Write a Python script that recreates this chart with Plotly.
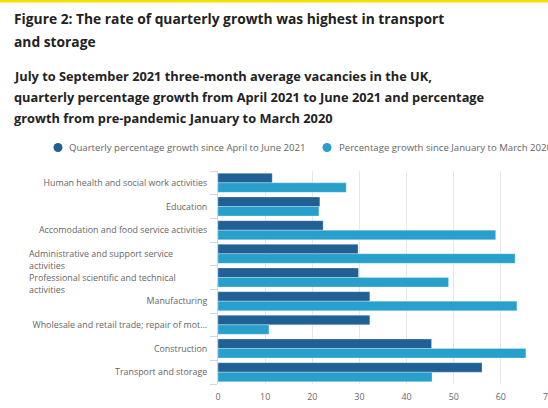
import plotly.graph_objects as go

categories = [
    "Human health and social work activities",
    "Education",
    "Accomodation and food service activities",
    "Administrative and support service activities",
    "Professional scientific and technical activities",
    "Manufacturing",
    "Wholesale and retail trade; repair of mot...",
    "Construction",
    "Transport and storage",
]
tick_labels = [
    "Human health and social work activities",
    "Education",
    "Accomodation and food service activities",
    "Administrative and support service<br>activities",
    "Professional scientific and technical<br>activities",
    "Manufacturing",
    "Wholesale and retail trade; repair of mot...",
    "Construction",
    "Transport and storage",
]
quarterly_growth = [11.5, 21.6, 22.3, 29.7, 29.8, 32.2, 32.2, 45.3, 56.0]
pre_pandemic_growth = [27.2, 21.4, 58.9, 63.0, 48.9, 63.4, 10.8, 65.3, 45.4]
series_names = [
    "Quarterly percentage growth since April to June 2021",
    "Percentage growth since January to March 2020",
]
x_ticks = [0, 10, 20, 30, 40, 50, 60, 70]

title_lines = ["Figure 2: The rate of quarterly growth was highest in transport", "and storage"]
subtitle_lines = [
    "July to September 2021 three-month average vacancies in the UK,",
    "quarterly percentage growth from April 2021 to June 2021 and percentage",
    "growth from pre-pandemic January to March 2020",
]

DARK = "#206095"
LIGHT = "#27a0cc"
FONT = "Open Sans"
LABEL_SIZE = 8.9

W, H = 548, 408
ML, MR, MT, MB = 218, 0, 171, 24
PW, PH = W - ML - MR, H - MT - MB


def px(x):
    return (x - ML) / PW


def py(y):
    return (H - MB - y) / PH


fig = go.Figure()
fig.add_trace(go.Bar(y=categories, x=quarterly_growth, orientation="h", name=series_names[0],
                     marker=dict(color=DARK, line=dict(color="rgba(255,255,255,0.5)", width=0.5))))
fig.add_trace(go.Bar(y=categories, x=pre_pandemic_growth, orientation="h", name=series_names[1],
                     marker=dict(color=LIGHT, line=dict(color="rgba(255,255,255,0.5)", width=0.5))))

single_ticktext = ["" if "<br>" in t else t for t in tick_labels]

annotations = []
# Wrapped, left-aligned category labels
for cat, lab in zip(categories, tick_labels):
    if "<br>" in lab:
        annotations.append(dict(x=px(27), xref="paper", y=cat, yref="y", xanchor="left", yanchor="middle",
                                yshift=-5.5, align="left", showarrow=False, text=lab,
                                font=dict(family=FONT, size=LABEL_SIZE, color="#666666")))

# Title lines
for i, t in enumerate(title_lines):
    annotations.append(dict(x=px(12), xref="paper", y=py(18 + 24 * i), yref="paper", xanchor="left",
                            yanchor="middle", showarrow=False, text="<b>%s</b>" % t,
                            font=dict(family=FONT, size=13.8, color="#222222")))
for i, t in enumerate(subtitle_lines):
    annotations.append(dict(x=px(12), xref="paper", y=py(76 + 21 * i), yref="paper", xanchor="left",
                            yanchor="middle", showarrow=False, text="<b>%s</b>" % t,
                            font=dict(family=FONT, size=12.8, color="#222222")))

# Legend (manual)
legend_pos = [(58, 67), (327, 337)]
shapes = []
for (cx, tx), name, col in zip(legend_pos, series_names, [DARK, LIGHT]):
    shapes.append(dict(type="circle", xref="paper", yref="paper", xsizemode="pixel", ysizemode="pixel",
                       xanchor=px(cx), yanchor=py(147.5), x0=-4.5, x1=4.5, y0=-4.5, y1=4.5,
                       fillcolor=col, line=dict(width=0)))
    annotations.append(dict(x=px(tx), xref="paper", y=py(147.5), yref="paper", xanchor="left",
                            yanchor="middle", showarrow=False, text=name,
                            font=dict(family=FONT, size=9.6, color="#666666")))

# Yellow top border
shapes.append(dict(type="rect", xref="paper", yref="paper", x0=px(-5), x1=px(W + 5), y0=py(0), y1=py(2.5),
                   fillcolor="#f7df00", line=dict(width=0), layer="above"))

fig.update_layout(
    width=W, height=H,
    margin=dict(l=ML, r=MR, t=MT, b=MB, pad=0, autoexpand=False),
    paper_bgcolor="white", plot_bgcolor="white",
    barmode="group", bargap=0.2, bargroupgap=0,
    showlegend=False,
    font=dict(family=FONT, size=LABEL_SIZE, color="#666666"),
    xaxis=dict(range=[0, 70], tickvals=x_ticks, showgrid=True, gridcolor="#e6e6e6", gridwidth=1,
               zeroline=False, showline=False, ticks="", tickfont=dict(size=LABEL_SIZE, color="#666666"),
               ticklabelstandoff=6, ticklabeloverflow="allow", automargin=False),
    yaxis=dict(categoryorder="array", categoryarray=categories, autorange="reversed",
               tickvals=categories, ticktext=single_ticktext, tickson="boundaries", ticks="outside",
               ticklen=7, tickcolor="#ccd6eb", showline=True, linecolor="#ccd6eb", linewidth=1,
               showgrid=False, tickfont=dict(size=LABEL_SIZE, color="#666666"), ticklabelstandoff=8,
               automargin=False),
    annotations=annotations,
    shapes=shapes,
)

fig.write_html("out.html", config={"displayModeBar": False},
               post_script="document.body.style.margin='0';document.body.style.overflow='hidden';")
